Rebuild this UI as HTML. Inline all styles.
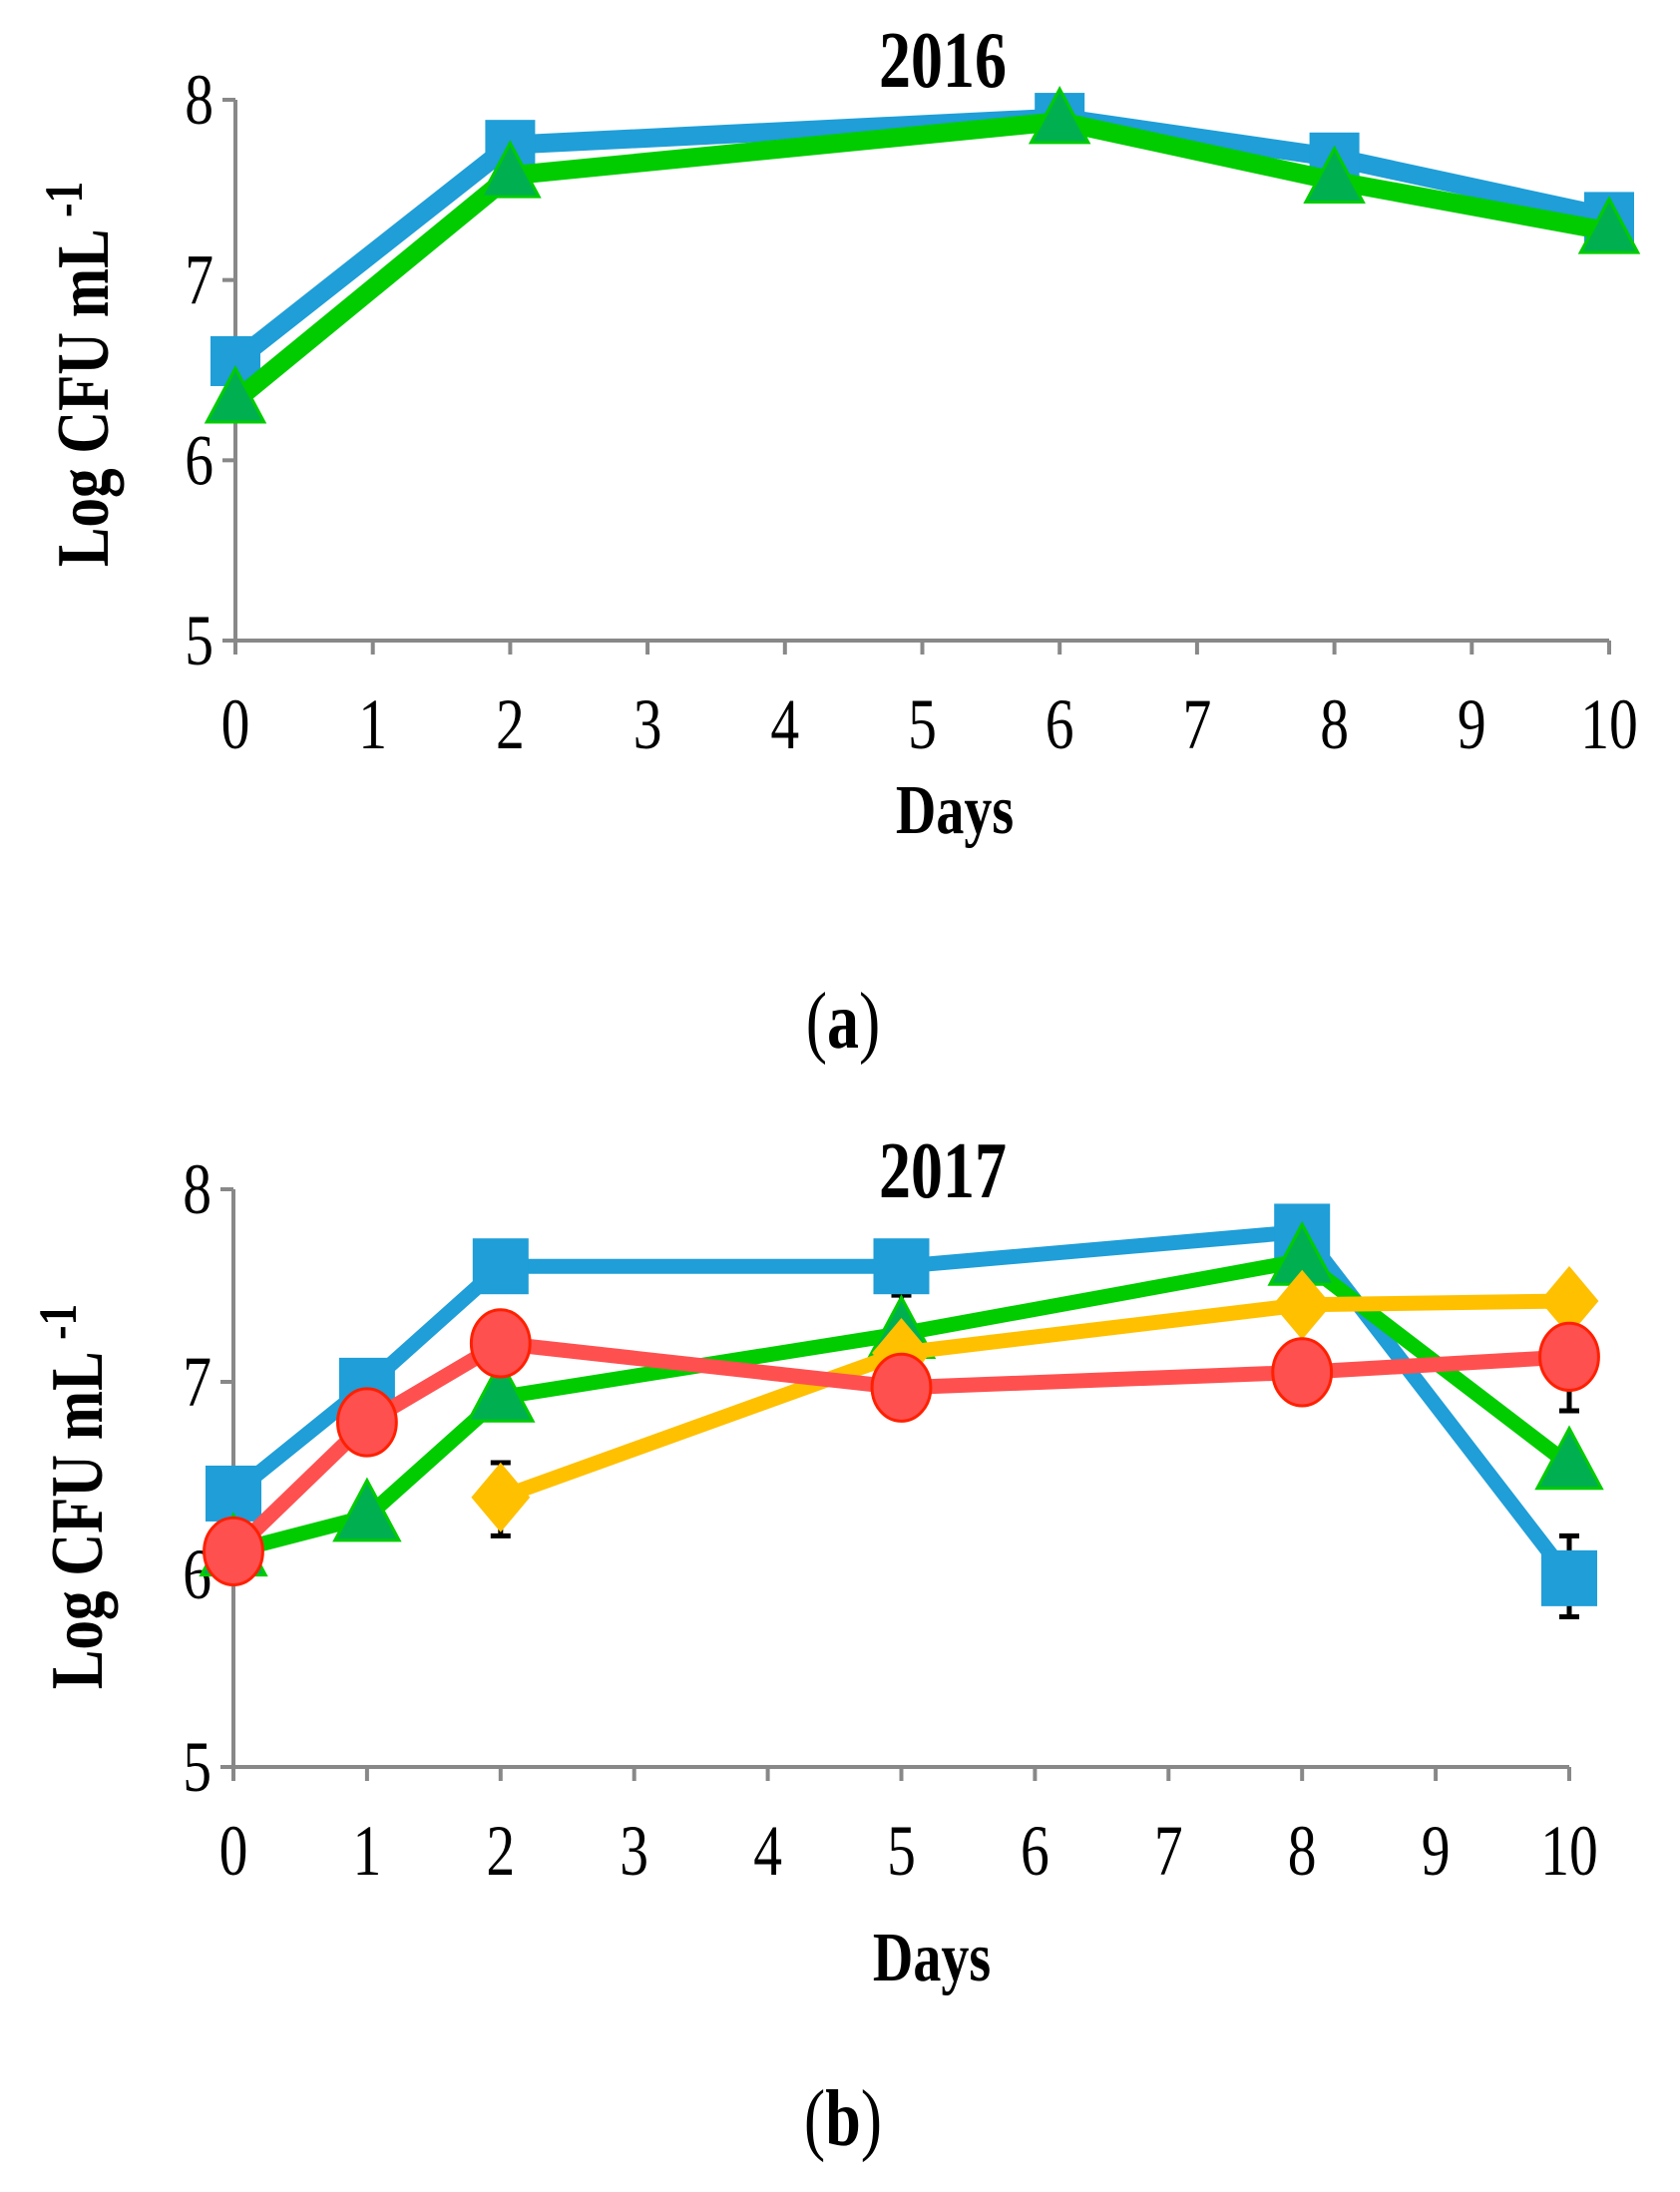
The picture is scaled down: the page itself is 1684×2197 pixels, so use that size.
<!DOCTYPE html>
<html><head><meta charset="utf-8"><style>
html,body{margin:0;padding:0;background:#fff;}
svg{display:block;font-family:"Liberation Serif",serif;}
</style></head><body>
<svg id="s" width="1684" height="2197" viewBox="0 0 1684 2197"></svg>
<script>
const daysA=[0,2,6,8,10];
const blueA=[6.55,7.75,7.9,7.68,7.35];
const greenA=[6.33,7.58,7.88,7.55,7.27];
const daysB=[0,1,2,5,8,10];
const blueB=[6.42,6.98,7.6,7.6,7.78,5.98];
const greenB=[6.12,6.3,6.92,7.25,7.63,6.57];
const redB=[6.12,6.79,7.2,6.97,7.05,7.13];
const daysY=[2,5,8,10];
const yellowB=[6.4,7.15,7.4,7.42];
const errB=[{d:2,lo:6.2,hi:6.58},{d:10,lo:5.78,hi:6.2},{d:10,lo:6.85,hi:7.4},{d:5,lo:7.3,hi:7.45}];
const xTicks=[0,1,2,3,4,5,6,7,8,9,10];
const yTicks=[5,6,7,8];
const NS="http://www.w3.org/2000/svg";
const svg=document.getElementById('s');
function mk(t,a,p){const e=document.createElementNS(NS,t);for(const k in a)e.setAttribute(k,a[k]);(p||svg).appendChild(e);return e;}
function txt(g,x,y,s,size,bold,anchor,rot){
 const t=mk('text',{x:0,y:0,'text-anchor':anchor||'middle','font-size':size,'font-weight':bold?'bold':'normal',
  transform:`translate(${x},${y})${rot?' rotate(-90)':''} scale(0.8,1)`},g);
 t.innerHTML=s;return t;
}
function chart(cfg){
 const g=mk('g',{});
 
 
 const X=v=>cfg.x0+(cfg.x1-cfg.x0)*v/10, Y=v=>cfg.y5+(cfg.y8-cfg.y5)*(v-5)/3;
 mk('line',{x1:cfg.x0,y1:Y(8),x2:cfg.x0,y2:Y(5),stroke:'#888','stroke-width':4,},g);
 mk('line',{x1:cfg.x0,y1:Y(5),x2:cfg.x1,y2:Y(5),stroke:'#888','stroke-width':4,},g);
 yTicks.forEach(v=>{
  mk('line',{x1:cfg.x0-13,y1:Y(v),x2:cfg.x0,y2:Y(v),stroke:'#888','stroke-width':4},g);
  const t=txt(g,cfg.x0-22,Y(v)+24,v,72,false,'end');
  
 });
 xTicks.forEach(v=>{
  mk('line',{x1:X(v),y1:Y(5),x2:X(v),y2:Y(5)+14,stroke:'#888','stroke-width':4},g);
  const t=txt(g,X(v),Y(5)+108,v,72,false,'middle');
  
 });
 (cfg.errs||[]).forEach(e=>{
  const p=mk('path',{d:`M${X(e.d)},${Y(e.lo)}V${Y(e.hi)}M${X(e.d)-10},${Y(e.lo)}h20M${X(e.d)-10},${Y(e.hi)}h20`,stroke:'#000','stroke-width':5,fill:'none'},g);
  
 });
 cfg.series.forEach(s=>{
  const pl=mk('polyline',{points:s.d.map((v,i)=>X(s.x[i])+','+Y(v)).join(' '),fill:'none',stroke:s.c,'stroke-width':cfg.lw,'stroke-linejoin':'round'},g);
  
  s.d.forEach((v,i)=>{
   const x=X(s.x[i]),y=Y(v),r=cfg.ms;let m;
   if(s.m==='sq')m=mk('rect',{x:x-r,y:y-r,width:2*r,height:2*r,fill:s.c},g);
   else if(s.m==='tri')m=mk('polygon',{points:`${x},${y-r*1.3} ${x-r*1.15},${y+r*0.85} ${x+r*1.15},${y+r*0.85}`,fill:'#00b050',stroke:'#00cc00','stroke-width':3},g);
   else if(s.m==='circ')m=mk('ellipse',{cx:x,cy:y,rx:r*1.05,ry:r*1.2,fill:'#ff5050',stroke:'#ff2000','stroke-width':3},g);
   else m=mk('polygon',{points:`${x},${y-r*1.25} ${x+r*1.05},${y} ${x},${y+r*1.25} ${x-r*1.05},${y}`,fill:'#ffc000'},g);
   
  });
 });
 let t=txt(g,cfg.tx,cfg.ty,cfg.title,80,true,'middle');
 
 t=txt(g,cfg.ylx,cfg.yly,'Log CFU mL <tspan dy="-26" font-size="54">-1</tspan>',74,true,'middle',true);
 
 t=txt(g,cfg.dx,cfg.dy,'Days',70,true,'middle');
 
 t=txt(g,845,cfg.py,'(<tspan font-weight="bold">'+cfg.panel+'</tspan>)',80,false,'middle');
 
}
chart({name:'chart-2016',x0:236,x1:1613,y8:100,y5:642,lw:19,ms:25,title:'2016',tx:945,ty:87,ylx:108,yly:375,dx:957,dy:835,py:1050,panel:'a',
 series:[{n:'blue',x:daysA,d:blueA,c:'#1f9ed8',m:'sq'},{n:'green',x:daysA,d:greenA,c:'#00cc00',m:'tri'}]});
chart({name:'chart-2017',x0:234,x1:1573,y8:1192,y5:1771,lw:15,ms:28,title:'2017',tx:945,ty:1200,ylx:102,yly:1500,dx:934,dy:1985,py:2150,panel:'b',errs:errB,
 series:[{n:'blue',x:daysB,d:blueB,c:'#1f9ed8',m:'sq'},{n:'green',x:daysB,d:greenB,c:'#00cc00',m:'tri'},{n:'yellow',x:daysY,d:yellowB,c:'#ffc000',m:'dia'},{n:'red',x:daysB,d:redB,c:'#ff5050',m:'circ'}]});
</script>
</body></html>
